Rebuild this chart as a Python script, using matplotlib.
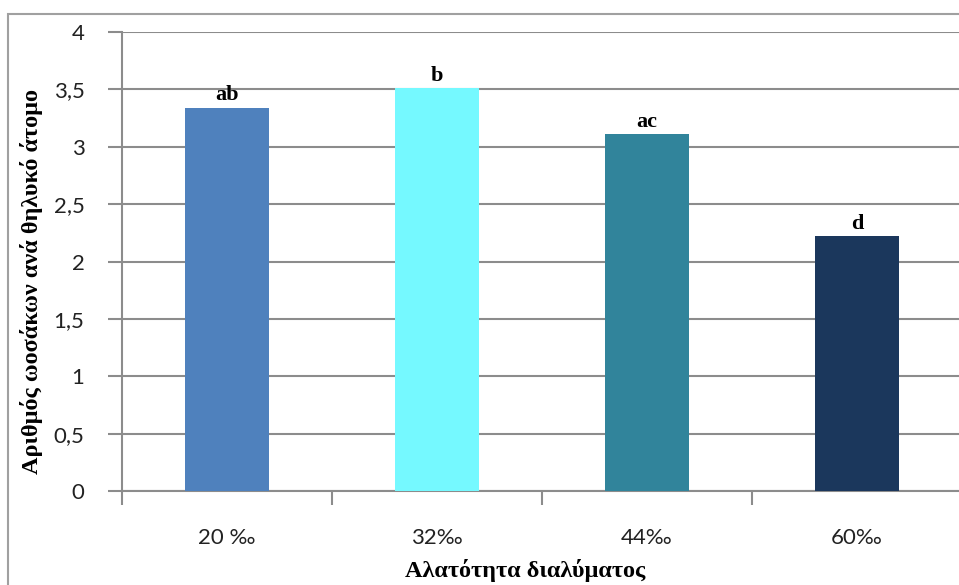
import matplotlib
matplotlib.use("Agg")
import matplotlib.pyplot as plt
from matplotlib.patches import Rectangle

# data
categories = ["20 ‰", "32‰", "44‰", "60‰"]
values = [3.34, 3.51, 3.11, 2.22]
letters = ["ab", "b", "ac", "d"]
colors = ["#4F81BD", "#75F9FF", "#31849B", "#1B375C"]
yticks = [0, 0.5, 1, 1.5, 2, 2.5, 3, 3.5, 4]
ytick_labels = ["0", "0,5", "1", "1,5", "2", "2,5", "3", "3,5", "4"]

fig = plt.figure(figsize=(9.59, 5.85), dpi=100)

# outer chart border (cropped at right/bottom)
fig.patches.append(Rectangle((8 / 959, -0.05), 1.2, 1 - 14 / 585 + 0.05,
                             transform=fig.transFigure, fill=False,
                             edgecolor="#A0A0A0", linewidth=1.5))

ax = fig.add_axes([122 / 959, 1 - 491 / 585, 840 / 959, 459 / 585])
x = list(range(len(categories)))
ax.bar(x, values, width=0.4, color=colors, zorder=3)

for i in x:
    ax.text(i, values[i] + 0.02, letters[i], ha="center", va="bottom",
            fontsize=16, fontweight="bold", family="Liberation Serif", zorder=4)

ax.set_xlim(-0.5, 3.5)
ax.set_ylim(0, 4)
ax.set_yticks(yticks)
ax.set_yticklabels(ytick_labels, family="Lato", fontsize=16, color="#222222")
ax.yaxis.grid(True, color="#8C8C8C", linewidth=1.5, zorder=0)
ax.tick_params(axis="y", length=10, width=1.5, color="#8C8C8C", pad=17)

ax.set_xticks([-0.5, 0.5, 1.5, 2.5, 3.5])
ax.set_xticklabels([])
ax.set_xticks(x, minor=True)
ax.set_xticklabels(categories, minor=True, family="Lato", fontsize=16,
                   color="#222222")
ax.tick_params(axis="x", which="major", length=10, width=1.5, color="#8C8C8C")
ax.tick_params(axis="x", which="minor", length=0, pad=27)

for s in ["top", "right"]:
    ax.spines[s].set_visible(False)
for s in ["left", "bottom"]:
    ax.spines[s].set_color("#8C8C8C")
    ax.spines[s].set_linewidth(1.5)

fig.text(32 / 959, 1 - 281 / 585, "Αριθμός ωοσάκων ανά θηλυκό άτομο",
         rotation=90, ha="center", va="center", fontsize=17.5,
         fontweight="bold", family="Liberation Serif")
fig.text(525 / 959, 1 - 570 / 585, "Αλατότητα διαλύματος",
         ha="center", va="center", fontsize=17.5,
         fontweight="bold", family="Liberation Serif")

fig.savefig("out.png", dpi=100)
